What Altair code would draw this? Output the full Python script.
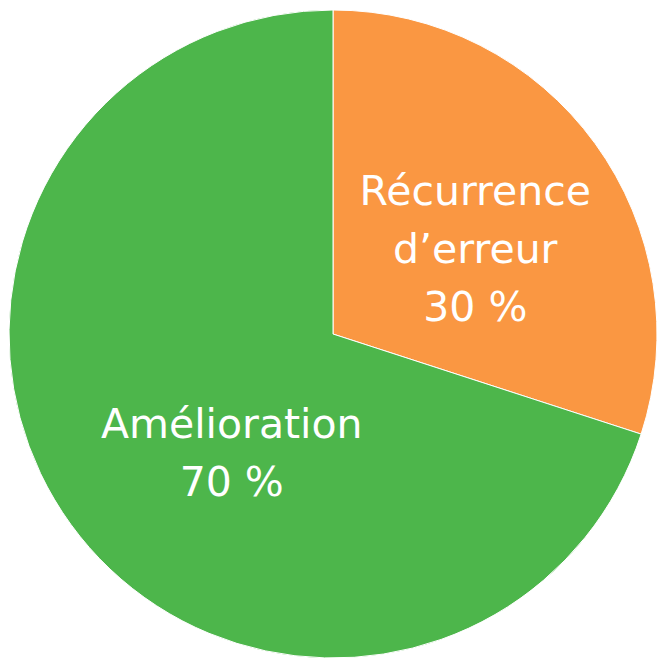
import altair as alt
import pandas as pd

categories = ["Récurrence d’erreur", "Amélioration"]
values = [30, 70]
labels = ["Récurrence\nd’erreur\n30 %", "Amélioration\n70 %"]
colors = ["#FA9742", "#4DB64B"]
order = [0, 1]

df = pd.DataFrame({"cat": categories, "val": values, "label": labels, "ord": order})

base = alt.Chart(df).encode(
    theta=alt.Theta("val:Q", stack=True),
    order=alt.Order("ord:Q"),
    x=alt.value(325),
    y=alt.value(326),
)

pie = base.mark_arc(outerRadius=324, stroke="white", strokeWidth=1).encode(
    color=alt.Color("cat:N", scale=alt.Scale(domain=categories, range=colors), legend=None)
)

def label_layer(cat, dx, dy):
    return base.mark_text(
        radius=161, font="DejaVu Sans", fontSize=41, color="white",
        lineBreak="\n", lineHeight=58, align="center", baseline="middle",
        dx=dx, dy=dy,
    ).encode(
        text=alt.Text("label:N"),
        opacity=alt.condition(alt.datum.cat == cat, alt.value(1), alt.value(0)),
    )

t1 = label_layer(categories[0], 12, -46)
t2 = label_layer(categories[1], 29, -3)

chart = alt.layer(pie, t1, t2).properties(
    width=649, height=652, padding=0, autosize=alt.AutoSizeParams(type="none")
).configure_view(stroke=None)

chart.save("out.html", embed_options={"renderer": "svg", "actions": False})
